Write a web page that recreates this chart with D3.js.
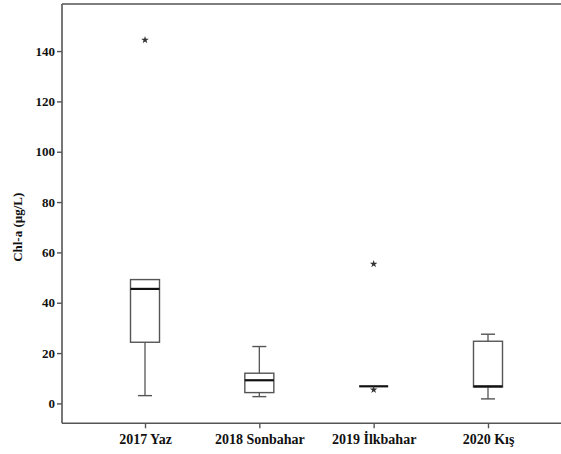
<!DOCTYPE html>
<html><head><meta charset="utf-8">
<script src="https://cdn.jsdelivr.net/npm/d3@7"></script>
<style>body{margin:0;background:#fff}svg{display:block}</style>
</head><body><svg id="c" width="561" height="454"></svg>
<script>
const categories = ["2017 Yaz", "2018 Sonbahar", "2019 İlkbahar", "2020 Kış"];
const whiskerLow  = [3.1, 2.7, 6.8, 1.8];
const q1          = [24.3, 4.3, 6.8, 6.5];
const median      = [45.5, 9.2, 6.8, 6.8];
const q3          = [49.2, 12.0, 6.8, 24.7];
const whiskerHigh = [49.2, 22.6, 6.8, 27.5];
const outliers    = [[144.4], [], [55.4, 5.4], []];
const yTicks = [0, 20, 40, 60, 80, 100, 120, 140];

(function () {
const svg = d3.select("#c");
const pL = 62, pR = 571, pT = 4, pB = 423.3;
const x = d3.scalePoint().domain(categories).range([pL, pR]).padding(0.726);
const y = d3.scaleLinear().domain([-7.9, 158.7]).range([pB, pT]);
const boxW = 29, capW = 14;
const stroke = "#555";

svg.append("line").attr("x1", pL).attr("x2", 561).attr("y1", pT).attr("y2", pT)
  .attr("stroke", stroke).attr("stroke-width", 1.6);

const yAxis = svg.append("g").attr("transform", `translate(${pL},0)`)
  .call(d3.axisLeft(y).tickValues(yTicks).tickSize(5).tickSizeOuter(0).tickPadding(2));
const xAxis = svg.append("g").attr("transform", `translate(0,${pB})`)
  .call(d3.axisBottom(x).tickSize(5).tickSizeOuter(0).tickPadding(6));
[yAxis, xAxis].forEach(a => {
  a.select(".domain").attr("stroke", stroke).attr("stroke-width", 1.6);
  a.selectAll(".tick line").attr("stroke", stroke).attr("stroke-width", 1.4);
  a.selectAll("text").attr("fill", "#111").attr("font-family", "'Liberation Serif', serif").attr("font-weight", "bold");
});
yAxis.select(".domain").attr("d", `M0,${pT}V${pB}`);
xAxis.select(".domain").attr("d", `M${pL},0H561`);
yAxis.selectAll("text").attr("font-size", 13);
xAxis.selectAll("text").attr("font-size", 14);

svg.append("text").attr("transform", `translate(22,${(y(0)+y(140))/2}) rotate(-90)`)
  .attr("text-anchor", "middle").attr("font-family", "'Liberation Serif', serif")
  .attr("font-weight", "bold").attr("font-size", 13).attr("fill", "#111")
  .text("Chl-a (µg/L)");

const g = svg.append("g");
categories.forEach((c, i) => {
  const cx = x(c);
  g.append("line").attr("x1", cx).attr("x2", cx).attr("y1", y(whiskerLow[i])).attr("y2", y(q1[i])).attr("stroke", stroke).attr("stroke-width", 1.3);
  g.append("line").attr("x1", cx).attr("x2", cx).attr("y1", y(whiskerHigh[i])).attr("y2", y(q3[i])).attr("stroke", stroke).attr("stroke-width", 1.3);
  if (whiskerLow[i] < q1[i])
    g.append("line").attr("x1", cx - capW/2).attr("x2", cx + capW/2).attr("y1", y(whiskerLow[i])).attr("y2", y(whiskerLow[i])).attr("stroke", stroke).attr("stroke-width", 1.4);
  if (whiskerHigh[i] > q3[i])
    g.append("line").attr("x1", cx - capW/2).attr("x2", cx + capW/2).attr("y1", y(whiskerHigh[i])).attr("y2", y(whiskerHigh[i])).attr("stroke", stroke).attr("stroke-width", 1.4);
  g.append("rect").attr("x", cx - boxW/2).attr("width", boxW)
    .attr("y", y(q3[i])).attr("height", y(q1[i]) - y(q3[i]))
    .attr("fill", "#fff").attr("stroke", stroke).attr("stroke-width", 1.4);
  g.append("line").attr("x1", cx - boxW/2).attr("x2", cx + boxW/2).attr("y1", y(median[i])).attr("y2", y(median[i]))
    .attr("stroke", "#111").attr("stroke-width", 2.2);
  outliers[i].forEach(v => {
    g.append("path").attr("d", d3.symbol(d3.symbolStar, 18)())
      .attr("transform", `translate(${cx},${y(v)})`).attr("fill", "#333");
  });
});
})();
</script></body></html>
